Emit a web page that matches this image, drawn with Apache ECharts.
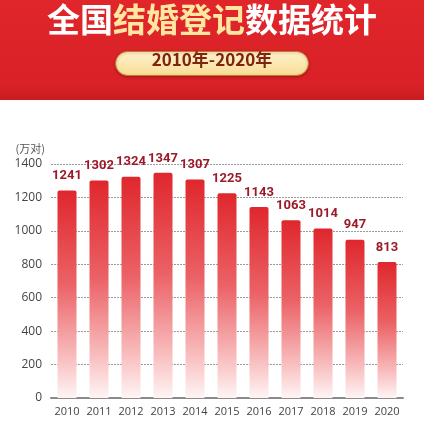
<!DOCTYPE html>
<html>
<head>
<meta charset="utf-8">
<script src="https://cdn.jsdelivr.net/npm/echarts@6/dist/echarts.min.js"></script>
<style>
    html, body { margin: 0; padding: 0; background: #fff; }
    #main { width: 424px; height: 421px; }
</style>
</head>
<body>
<div id="main"></div>
<script>
    // 全国结婚登记数据 (万对)
    var years = ['2010', '2011', '2012', '2013', '2014', '2015', '2016', '2017', '2018', '2019', '2020'];
    var marriages = [1241, 1302, 1324, 1347, 1307, 1225, 1143, 1063, 1014, 947, 813];
    var yTicks = [0, 200, 400, 600, 800, 1000, 1200, 1400];

    var myChart = echarts.init(document.getElementById('main'));

    var option = {
        backgroundColor: '#fff',
        animation: false,
        textStyle: {
            fontFamily: '"Noto Sans CJK SC", "Open Sans", sans-serif'
        },
        graphic: [
            {
                type: 'rect',
                left: 0,
                top: 0,
                z: 0,
                shape: { width: 424, height: 100 },
                style: {
                    fill: new echarts.graphic.LinearGradient(0, 0, 0, 1, [
                        { offset: 0, color: '#e0262b' },
                        { offset: 0.85, color: '#d92127' },
                        { offset: 1, color: '#c81d22' }
                    ])
                }
            },
            {
                type: 'rect',
                left: 115,
                top: 51,
                z: 1,
                shape: { width: 193, height: 24, r: 12 },
                style: {
                    fill: new echarts.graphic.LinearGradient(0, 0, 0, 1, [
                        { offset: 0, color: '#fff3cc' },
                        { offset: 1, color: '#f8dc95' }
                    ]),
                    stroke: '#c07a28',
                    lineWidth: 1,
                    shadowColor: 'rgba(80,0,0,0.35)',
                    shadowBlur: 3,
                    shadowOffsetY: 1
                }
            },
            {
                type: 'text',
                left: 'center',
                top: 3,
                z: 2,
                style: {
                    text: '{w|全国}{y|结婚登记}{w|数据统计}',
                    rich: {
                        w: {
                            fontSize: 33,
                            fontWeight: 'bold',
                            fill: '#ffffff',
                            fontFamily: '"Noto Sans CJK SC"'
                        },
                        y: {
                            fontSize: 33,
                            fontWeight: 'bold',
                            fill: '#ffe7a0',
                            fontFamily: '"Noto Sans CJK SC"'
                        }
                    },
                    shadowColor: 'rgba(90,0,0,0.5)',
                    shadowBlur: 3,
                    shadowOffsetY: 1
                }
            },
            {
                type: 'text',
                left: 'center',
                top: 51,
                z: 2,
                style: {
                    text: '2010年-2020年',
                    fontSize: 17,
                    fontWeight: 'bold',
                    fill: '#7e2410',
                    fontFamily: '"Noto Sans CJK SC"'
                }
            }
        ],
        grid: {
            left: 51,
            right: 21,
            top: 164,
            bottom: 23
        },
        xAxis: {
            type: 'category',
            data: years,
            axisLine: {
                show: true,
                lineStyle: { color: '#8a8a8a', width: 2 }
            },
            axisTick: { show: false },
            axisLabel: {
                interval: 0,
                color: '#444',
                fontSize: 11,
                margin: 8,
                fontFamily: '"Open Sans", sans-serif'
            }
        },
        yAxis: {
            type: 'value',
            min: yTicks[0],
            max: yTicks[yTicks.length - 1],
            interval: 200,
            name: '(万对)',
            nameLocation: 'end',
            nameGap: 10,
            nameTextStyle: {
                color: '#555',
                fontSize: 11,
                align: 'right',
                padding: [0, 6, 0, 0]
            },
            axisLine: { show: false },
            axisTick: { show: false },
            axisLabel: {
                color: '#444',
                fontSize: 12,
                margin: 9,
                fontFamily: '"Open Sans", sans-serif',
                formatter: function (v) { return String(v); }
            },
            splitLine: {
                show: true,
                lineStyle: { color: '#9a9a9a', type: [2, 1], width: 1 }
            }
        },
        series: [
            {
                name: '结婚登记',
                type: 'bar',
                barWidth: 19,
                data: marriages,
                itemStyle: {
                    borderRadius: [2, 2, 0, 0],
                    color: new echarts.graphic.LinearGradient(0, 0, 0, 1, [
                        { offset: 0, color: '#df272d' },
                        { offset: 0.45, color: '#eb6266' },
                        { offset: 0.8, color: '#f8bcbd' },
                        { offset: 1, color: '#fff4f4' }
                    ])
                },
                label: {
                    show: true,
                    position: 'top',
                    distance: 8,
                    color: '#9c1a28',
                    fontSize: 13,
                    fontWeight: 'bold',
                    fontFamily: 'Roboto, sans-serif'
                }
            }
        ]
    };

    myChart.setOption(option);
    window.addEventListener('resize', myChart.resize);
</script>
</body>
</html>
